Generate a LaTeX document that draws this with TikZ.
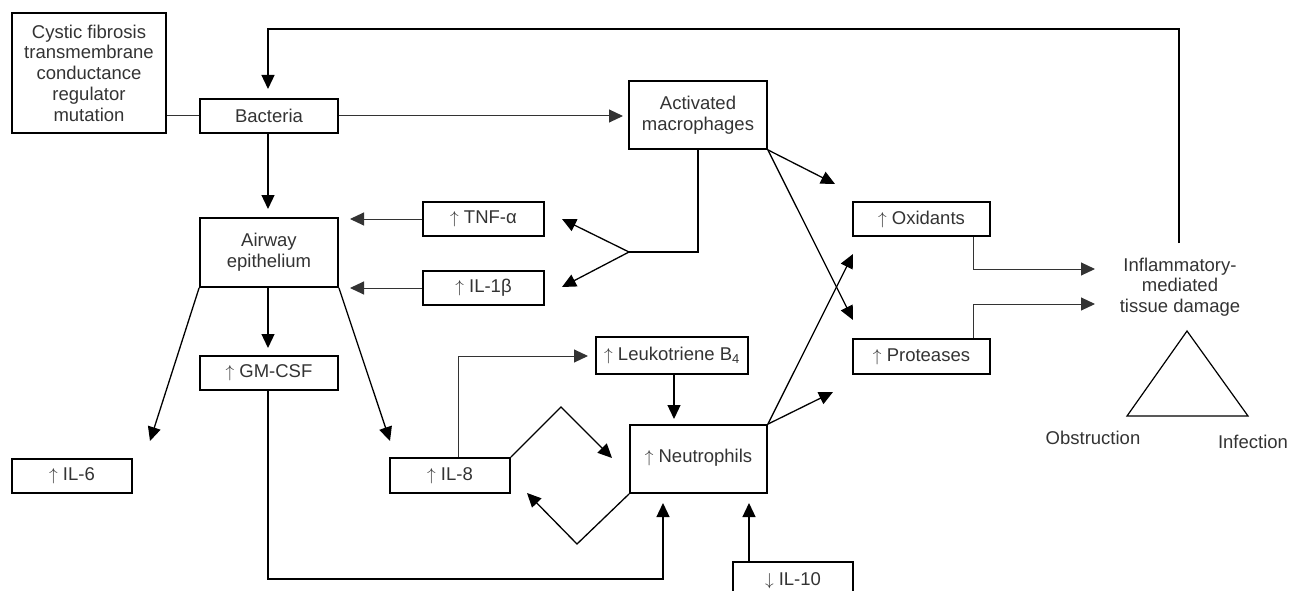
\documentclass[tikz,border=0pt]{standalone}
\usepackage{fontspec}
\setmainfont{Liberation Sans}
\usetikzlibrary{arrows.meta}
\definecolor{txt}{HTML}{333333}
\newcommand{\up}{$\uparrow$~}
\newcommand{\dn}{$\downarrow$~}
\begin{document}
\begin{tikzpicture}[x=1pt,y=-1pt,
  lbl/.style={text=txt, font=\fontsize{18.5}{20.7}\selectfont, align=center, inner sep=0pt},
  box/.style={lbl, draw=black, line width=1.8pt},
  conn/.style={line width=1.3pt, line join=miter},
  thin/.style={line width=1pt, draw=black!80},
  arr/.style={-{Triangle[length=14pt,width=13pt]}}]
\useasboundingbox (0,0) rectangle (1293,591);

% boxes
\node[box, minimum width=154pt, minimum height=120pt] (cf) at (89,73) {Cystic fibrosis\\transmembrane\\conductance\\regulator\\mutation};
\node[box, minimum width=138pt, minimum height=34pt] (bact) at (269,116) {Bacteria};
\node[box, minimum width=138pt, minimum height=68pt] (mac) at (698,115) {Activated\\macrophages};
\node[box, minimum width=138pt, minimum height=69pt] (air) at (269,252.5) {Airway\\epithelium};
\node[box, minimum width=121pt, minimum height=34pt] (tnf) at (483.5,219) {\up TNF-α};
\node[box, minimum width=121pt, minimum height=34pt] (il1) at (483.5,288) {\up IL-1β};
\node[box, minimum width=138pt, minimum height=34pt] (gm) at (269,373) {\up GM-CSF};
\node[box, minimum width=120pt, minimum height=34pt] (il6) at (72,476) {\up IL-6};
\node[box, minimum width=120pt, minimum height=35pt] (il8) at (450,475.5) {\up IL-8};
\node[box, minimum width=152pt, minimum height=37pt] (leu) at (672,355.5) {\up Leukotriene B\textsubscript{4}};
\node[box, minimum width=137pt, minimum height=68pt] (neu) at (698.5,459) {\raisebox{6pt}{\up Neutrophils}};
\node[box, minimum width=137pt, minimum height=34pt] (ox) at (921.5,219) {\up Oxidants};
\node[box, minimum width=137pt, minimum height=35pt] (pro) at (921.5,356.5) {\up Proteases};
\node[box, minimum width=120pt, minimum height=38pt] (il10) at (793,581) {\raisebox{2pt}{\dn IL-10}};

\node[lbl] (dmg) at (1180,287) {Inflammatory-\\mediated\\tissue damage};
\node[lbl] (obs) at (1093,438) {Obstruction};
\node[lbl] (inf) at (1253,442) {Infection};
\draw[line width=1.2pt] (1187,331) coordinate (tA) -- (1248,416) coordinate (tR) -- (1127,416) coordinate (tL) -- cycle;

% coordinates
\coordinate (fbTop) at (1179,29);
\coordinate (fbBt) at (1179,243);
\coordinate (bactTip) at (268,89);
\coordinate (airTip) at (268,209);
\coordinate (macTip) at (623,116);
\coordinate (jn) at (629,252);
\coordinate (tnfTip) at (562,219);
\coordinate (il1Tip) at (562,287);
\coordinate (tnfA) at (350,219);
\coordinate (il1A) at (350,288);
\coordinate (gmTip) at (268,348);
\coordinate (il6Tip) at (150,441);
\coordinate (il8Tip) at (390,441);
\coordinate (leuTip) at (588,356);
\coordinate (neuTip) at (674,419);
\coordinate (dA) at (561,407);
\coordinate (dATip) at (612,458);
\coordinate (dB) at (577,544);
\coordinate (dBTip) at (527,493);
\coordinate (gmTurn) at (268,579);
\coordinate (gmNeu) at (663,503);
\coordinate (il10Tip) at (749,503);
\coordinate (m1Tip) at (835,184);
\coordinate (m2Tip) at (853,320);
\coordinate (n1Tip) at (853,254);
\coordinate (n2Tip) at (833,392);
\coordinate (oxTip) at (1095,269);
\coordinate (proTip) at (1095,304);

% connectors
\draw[conn, arr] (fbBt) -- (fbTop) -| (bactTip);
\draw[thin] (cf.east |- bact.west) -- (bact.west);
\draw[thin, arr] (bact.east) -- (macTip);
\draw[conn, arr] (bact.south -| bactTip) -- (airTip);
\draw[conn] (mac.south) |- (jn);
\draw[conn, arr] (jn) -- (tnfTip);
\draw[conn, arr] (jn) -- (il1Tip);
\draw[thin, arr] (tnf.west) -- (tnfA);
\draw[thin, arr] (il1.west) -- (il1A);
\draw[conn, arr] (air.south -| gmTip) -- (gmTip);
\draw[conn, arr] (air.south west) -- (il6Tip);
\draw[conn, arr] (air.south east) -- (il8Tip);
\draw[conn, arr] (gm.south -| gmTurn) -- (gmTurn) -| (gmNeu);
\draw[thin, arr] (il8.north -| 458,0) |- (leuTip);
\draw[conn, arr] (leu.south -| neuTip) -- (neuTip);
\draw[conn, arr] (il8.north east) -- (dA) -- (dATip);
\draw[conn, arr] (neu.south west) -- (dB) -- (dBTip);
\draw[conn, arr] (il10.north -| il10Tip) -- (il10Tip);
\draw[conn, arr] (mac.south east) -- (m1Tip);
\draw[conn, arr] (mac.south east) -- (m2Tip);
\draw[conn, arr] (neu.north east) -- (n1Tip);
\draw[conn, arr] (neu.north east) -- (n2Tip);
\draw[thin, arr] (ox.south -| 973,0) |- (oxTip);
\draw[thin, arr] (pro.north -| 973,0) |- (proTip);
\end{tikzpicture}
\end{document}
